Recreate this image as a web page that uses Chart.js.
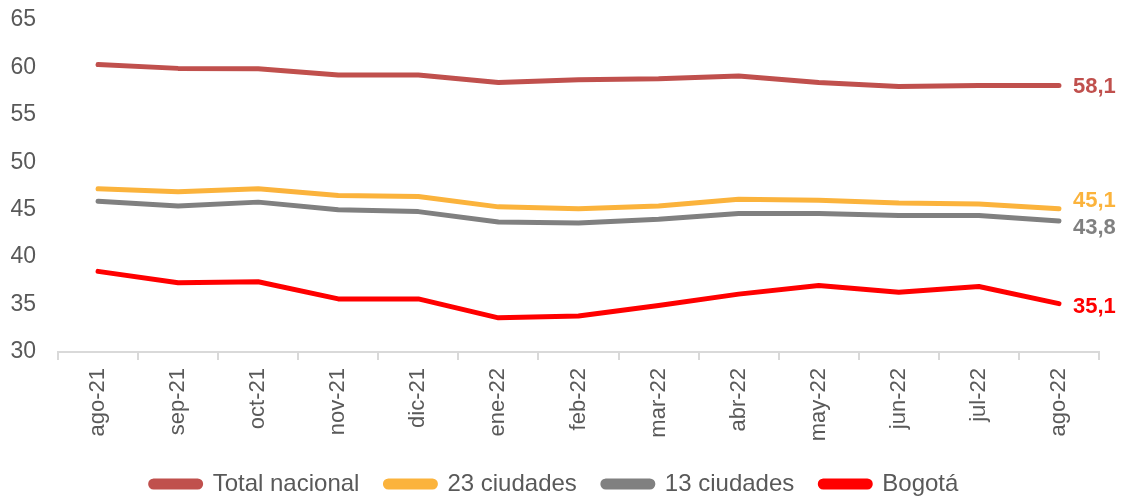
<!DOCTYPE html>
<html>
<head>
<meta charset="utf-8">
<script src="https://cdn.jsdelivr.net/npm/chart.js@4"></script>
<style>
  html, body { margin: 0; padding: 0; background: #fff; }
  #wrap { width: 1124px; height: 496px; }
</style>
</head>
<body>
<div id="wrap"><canvas id="tasa-chart"></canvas></div>
<script>
// meses
const labels = ['ago-21', 'sep-21', 'oct-21', 'nov-21', 'dic-21', 'ene-22', 'feb-22',
    'mar-22', 'abr-22', 'may-22', 'jun-22', 'jul-22', 'ago-22'];

const totalNacional = [60.3, 59.9, 59.85, 59.2, 59.2, 58.4, 58.7, 58.8, 59.1, 58.4, 58.0, 58.1, 58.1];
const ciudades23 = [47.2, 46.9, 47.2, 46.5, 46.4, 45.3, 45.1, 45.4, 46.1, 46.0, 45.7, 45.6, 45.1];
const ciudades13 = [45.9, 45.4, 45.8, 45.0, 44.8, 43.7, 43.6, 44.0, 44.6, 44.6, 44.4, 44.4, 43.8];
const bogota = [38.5, 37.3, 37.4, 35.6, 35.6, 33.6, 33.8, 34.9, 36.1, 37.0, 36.3, 36.9, 35.1];

const yTicks = [30, 35, 40, 45, 50, 55, 60, 65];

const FONT = '"Liberation Sans", Arial, sans-serif';
const GREY = '#595959';

function serie(label, values, color) {
    return {
        label: label,
        data: values,
        borderColor: color,
        backgroundColor: color,
        borderWidth: 5,
        borderCapStyle: 'round',
        borderJoinStyle: 'round',
        pointRadius: 0,
        tension: 0
    };
}

// etiqueta con el ultimo valor al final de cada linea
const endLabels = {
    id: 'endLabels',
    afterDatasetsDraw(chart) {
        const ctx = chart.ctx;
        const nudge = [1, -8, 7, 3];
        ctx.save();
        ctx.font = 'bold 22px ' + FONT;
        ctx.textBaseline = 'middle';
        ctx.textAlign = 'left';
        chart.data.datasets.forEach((ds, i) => {
            const meta = chart.getDatasetMeta(i);
            const pt = meta.data[meta.data.length - 1];
            const v = ds.data[ds.data.length - 1];
            ctx.fillStyle = ds.borderColor;
            ctx.fillText(v.toFixed(1).replace('.', ','), pt.x + 14, pt.y + nudge[i]);
        });
        ctx.restore();
    }
};

// leyenda mas baja, pegada al borde inferior
const legendFit = {
    id: 'legendFit',
    beforeLayout(chart) {
        const lg = chart.legend;
        if (!lg || lg._patched) return;
        const fit = lg.fit;
        lg.fit = function () {
            fit.call(this);
            this.height = 50;
        };
        lg._patched = true;
    }
};

const data = {
    labels: labels,
    datasets: [
        serie('Total nacional', totalNacional, '#C0504D'),
        serie('23 ciudades', ciudades23, '#FBB33C'),
        serie('13 ciudades', ciudades13, '#808080'),
        serie('Bogotá', bogota, '#FF0000')
    ]
};

const config = {
    type: 'line',
    data,
    plugins: [endLabels, legendFit],
    options: {
        responsive: true,
        maintainAspectRatio: false,
        animation: false,
        layout: { padding: { top: 20, right: 25, left: 10, bottom: 0 } },
        plugins: {
            tooltip: { enabled: false },
            legend: {
                position: 'bottom',
                labels: {
                    color: GREY,
                    font: { family: FONT, size: 24 },
                    boxWidth: 50,
                    boxHeight: 6,
                    useBorderRadius: true,
                    borderRadius: 3,
                    padding: 26
                }
            }
        },
        scales: {
            x: {
                offset: true,
                afterFit(scale) {
                    scale.height = 94;
                    scale.paddingLeft = 0;
                    scale.paddingRight = 0;
                },
                grid: {
                    offset: true,
                    drawOnChartArea: false,
                    drawTicks: true,
                    tickLength: 8,
                    color: '#d9d9d9',
                    lineWidth: 2
                },
                border: { color: '#d9d9d9', width: 2 },
                ticks: {
                    color: GREY,
                    font: { family: FONT, size: 22 },
                    maxRotation: 90,
                    minRotation: 90,
                    padding: 8
                }
            },
            y: {
                min: 30,
                max: 65,
                afterBuildTicks(axis) {
                    axis.ticks = yTicks.map(v => ({ value: v }));
                },
                afterFit(scale) {
                    scale.width = 48;
                    scale.paddingTop = 0;
                    scale.paddingBottom = 0;
                },
                grid: { display: false, drawTicks: false },
                border: { display: false },
                ticks: {
                    color: GREY,
                    font: { family: FONT, size: 23 },
                    padding: 22
                }
            }
        }
    }
};

var tasaChart = new Chart(document.getElementById('tasa-chart'), config);
</script>
</body>
</html>
